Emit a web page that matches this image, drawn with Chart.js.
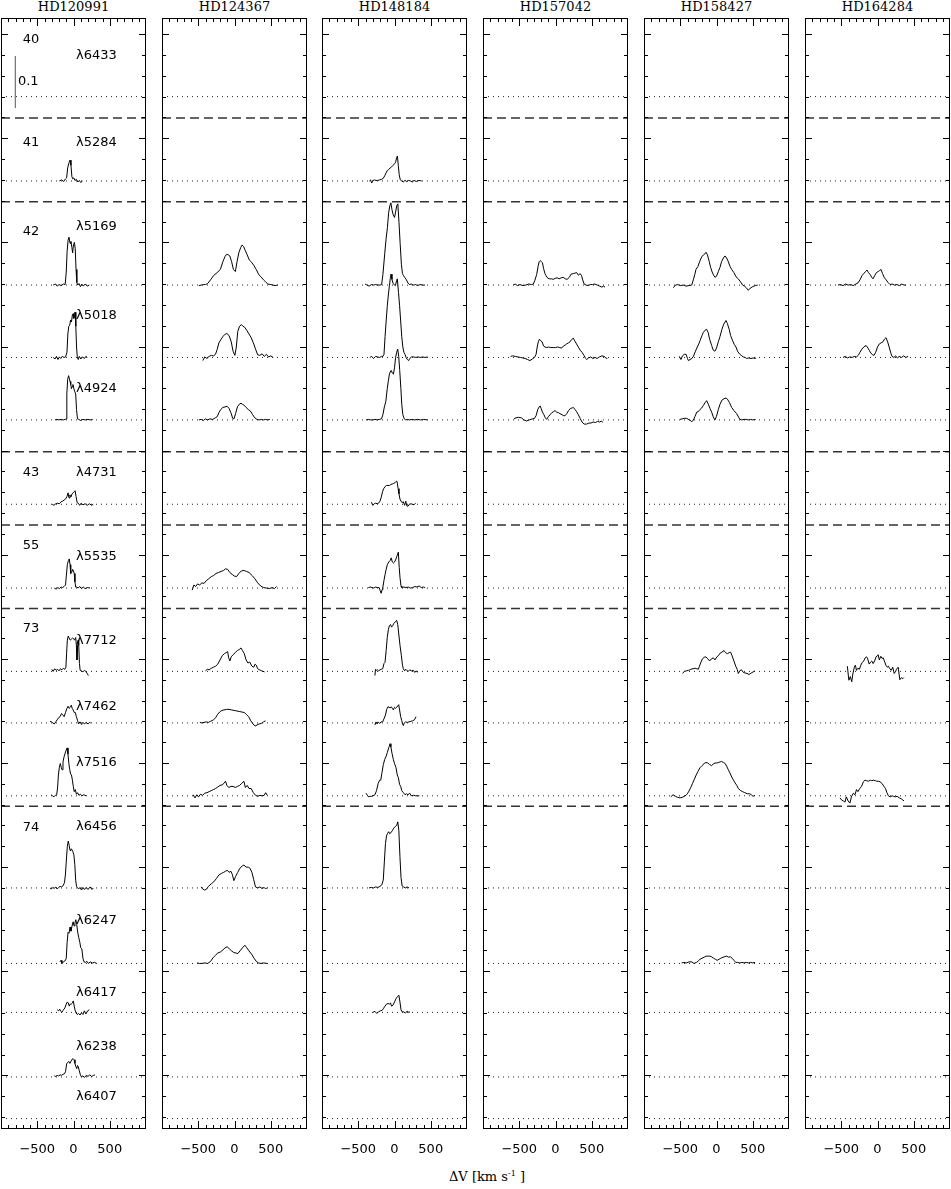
<!DOCTYPE html>
<html>
<head>
<meta charset="utf-8">
<script src="https://cdn.jsdelivr.net/npm/chart.js@4"></script>
<style>
  body { margin: 0; background: #fff; }
  #wrap { position: relative; width: 951px; height: 1189px; overflow: hidden; background: #fff; }
  #wrap canvas { position: absolute; top: 0; }
  .title { position: absolute; top: -1px; width: 145px; text-align: center; font: 13px "DejaVu Serif"; line-height: 15px; color: #000; }
  #xlabel { position: absolute; top: 1169px; left: 387px; width: 200px; text-align: center; font: 13px "DejaVu Serif"; color: #000; }
  #xlabel sup { font-size: 8px; }
</style>
</head>
<body>
<div id="wrap">
  <div id="xlabel">&Delta;V [km s<sup>-1</sup> ]</div>
</div>
<script>
// stars (columns) and spectral lines (rows)
const stars = ["HD120991", "HD124367", "HD148184", "HD157042", "HD158427", "HD164284"];
const lineNames = ["λ6433", "λ5284", "λ5169", "λ5018", "λ4924", "λ4731", "λ5535", "λ7712",
  "λ7462", "λ7516", "λ6456", "λ6247", "λ6417", "λ6238", "λ6407"];
// continuum level (offset) of each line, flux units
const baselines = [1.880, 1.718, 1.518, 1.379, 1.259, 1.097, 0.936, 0.776, 0.677, 0.537,
  0.360, 0.215, 0.121, -0.003, -0.083];
// dashed lines between multiplets
const separators = [1.839, 1.678, 1.198, 1.057, 0.897, 0.517];
const multiplets = ["40", "41", "42", "43", "55", "73", "74"];
const multipletY = [1.989, 1.791, 1.620, 1.158, 1.017, 0.859, 0.476];
const lineLabelY = [1.958, 1.791, 1.630, 1.459, 1.319, 1.158, 0.996, 0.836, 0.708, 0.600,
  0.478, 0.298, 0.158, 0.056, -0.041];
const xTickLabels = [-500, 0, 500];

// profiles: [dV km/s, flux above continuum]
const hd120991_5284 = [[-195,0],[-165,0.002],[-135,-0.001],[-110,0.004],[-95,0.006],[-80,0.025],[-60,0.036],[-48,0.040],[-35,0.030],[-22,0.008],[-10,0.004],[5,0.006],[20,0.001],[40,0.003],[60,-0.002],[80,0.001],[100,-0.003],[125,0]];
const hd120991_5169 = [[-280,0],[-250,0.002],[-225,-0.002],[-200,0.001],[-170,-0.001],[-140,0.002],[-115,0.001],[-100,0.025],[-88,0.065],[-75,0.086],[-62,0.092],[-48,0.080],[-35,0.084],[-22,0.072],[-12,0.062],[-2,0.075],[12,0.082],[24,0.070],[35,0.03],[46,0.005],[58,0],[75,0.003],[95,-0.003],[115,0.002],[135,-0.002],[160,0.002],[190,-0.002],[218,0]];
const hd120991_5018 = [[-280,0],[-255,-0.003],[-235,0.002],[-215,-0.004],[-195,0.001],[-175,-0.002],[-155,0.002],[-130,0],[-110,0.001],[-90,0.01],[-78,0.045],[-65,0.06],[-52,0.062],[-40,0.072],[-28,0.068],[-15,0.082],[-5,0.084],[5,0.075],[14,0.085],[22,0.087],[32,0.06],[42,0.02],[52,0.002],[65,-0.004],[80,0.002],[100,-0.003],[125,0.001],[150,-0.002],[170,0.002],[190,0]];
const hd120991_4924 = [[-255,0],[-230,0.001],[-200,0],[-170,0.001],[-140,0],[-115,0.001],[-100,0.002],[-92,0.05],[-80,0.078],[-68,0.085],[-58,0.080],[-48,0.074],[-38,0.068],[-28,0.060],[-18,0.064],[-8,0.068],[5,0.06],[18,0.054],[30,0.05],[42,0.02],[55,0.002],[70,0.001],[100,-0.001],[130,0.001],[160,0],[200,0.001],[230,0],[265,0.001]];
const hd120991_4731 = [[-293,0],[-270,-0.002],[-245,0.001],[-220,0.002],[-195,0.001],[-170,0.005],[-150,0.006],[-130,0.008],[-110,0.01],[-90,0.015],[-75,0.022],[-62,0.012],[-50,0.018],[-35,0.014],[-20,0.02],[-5,0.022],[10,0.024],[22,0.026],[35,0.015],[50,0.003],[65,0.002],[85,-0.002],[105,0.002],[130,-0.001],[160,0.001],[190,-0.002],[220,0.001],[250,-0.002],[273,0]];
const hd120991_5535 = [[-265,0],[-240,-0.002],[-215,0.001],[-195,-0.001],[-170,0.002],[-150,0.001],[-130,0.003],[-110,0.006],[-98,0.025],[-85,0.045],[-70,0.053],[-58,0.056],[-48,0.045],[-38,0.028],[-25,0.03],[-12,0.036],[0,0.033],[10,0.028],[20,0.012],[30,0.002],[45,0.002],[65,0],[85,0.003],[110,-0.001],[135,0.002],[160,-0.001],[195,0.001],[228,0]];
const hd120991_7712 = [[-300,0.004],[-280,0],[-260,0.005],[-240,0.002],[-220,0.004],[-200,0.001],[-180,0.005],[-160,0.003],[-140,0.006],[-120,0.004],[-105,0.008],[-95,0.035],[-85,0.06],[-72,0.068],[-60,0.064],[-45,0.060],[-30,0.062],[-15,0.064],[0,0.063],[15,0.060],[30,0.065],[40,0.05],[48,0.022],[56,0.045],[64,0.06],[72,0.05],[82,0.015],[92,0.002],[110,0.001],[130,-0.001],[150,0.002],[170,0],[190,-0.004],[204,-0.008]];
const hd120991_7462 = [[-324,0.003],[-305,0.002],[-285,0],[-265,-0.002],[-245,0.002],[-225,0.006],[-205,0.01],[-185,0.012],[-165,0.018],[-150,0.016],[-130,0.012],[-110,0.02],[-90,0.028],[-75,0.032],[-60,0.028],[-45,0.03],[-30,0.034],[-18,0.028],[-5,0.025],[10,0.02],[25,0.02],[40,0.012],[55,0.005],[70,-0.002],[90,0.002],[110,-0.003],[130,0.001],[150,-0.002],[175,0.001],[200,-0.002],[220,0.001],[237,0]];
const hd120991_7516 = [[-310,0.002],[-290,0],[-270,-0.002],[-250,0.001],[-232,0.002],[-220,0.015],[-208,0.04],[-195,0.055],[-182,0.062],[-170,0.055],[-158,0.05],[-145,0.065],[-130,0.075],[-115,0.082],[-100,0.088],[-88,0.092],[-76,0.08],[-64,0.062],[-52,0.05],[-40,0.042],[-28,0.04],[-15,0.03],[-3,0.018],[10,0.008],[25,0.012],[40,0.003],[55,0.006],[75,0.001],[95,0.003],[115,0],[140,0.002],[172,0]];
const hd120991_6456 = [[-324,0],[-305,-0.002],[-285,0.001],[-265,-0.001],[-245,0.002],[-225,-0.002],[-205,0.001],[-185,0.003],[-165,0.002],[-145,0.004],[-125,0.01],[-112,0.025],[-100,0.05],[-85,0.08],[-72,0.09],[-60,0.082],[-48,0.072],[-35,0.075],[-22,0.074],[-10,0.07],[5,0.064],[18,0.045],[30,0.015],[42,0.003],[55,0.001],[70,-0.002],[90,0.001],[110,-0.004],[130,0.001],[150,-0.003],[175,0.001],[200,-0.003],[230,0.002],[255,-0.003],[273,0]];
const hd120991_6247 = [[-186,0.003],[-172,0.006],[-160,0],[-145,0.002],[-130,0.004],[-115,0.005],[-100,0.01],[-88,0.04],[-75,0.06],[-62,0.058],[-48,0.07],[-35,0.062],[-20,0.072],[-5,0.08],[8,0.072],[20,0.078],[32,0.084],[44,0.075],[58,0.06],[72,0.05],[88,0.04],[100,0.03],[115,0.028],[130,0.01],[145,0.003],[165,0.002],[185,0.004],[205,0],[230,0.003],[260,0.001],[290,0.002],[320,0]];
const hd120991_6417 = [[-223,0.005],[-205,0.003],[-190,0.006],[-175,0.002],[-160,0],[-145,0.004],[-130,0.006],[-115,0.01],[-100,0.016],[-85,0.02],[-72,0.018],[-58,0.012],[-45,0.016],[-30,0.016],[-15,0.018],[-3,0.022],[10,0.012],[22,0.004],[35,-0.001],[50,-0.004],[70,-0.002],[90,-0.005],[110,-0.001],[130,-0.004],[150,0.003],[170,-0.003],[195,0.003],[218,0.005]];
const hd120991_6238 = [[-265,0.002],[-245,0.001],[-225,0.003],[-205,0.002],[-185,0.004],[-165,0.003],[-145,0.005],[-125,0.006],[-110,0.01],[-95,0.025],[-80,0.028],[-65,0.03],[-50,0.026],[-35,0.03],[-20,0.034],[-5,0.035],[8,0.033],[20,0.026],[32,0.02],[45,0.016],[55,0.022],[65,0.02],[80,0.012],[95,0.004],[110,0],[130,0.002],[150,-0.001],[175,0.003],[200,0.001],[225,0.004],[250,0.001],[275,0.003],[297,0.004]];

const hd124367_5169 = [[-492,-0.001],[-460,0],[-430,0.001],[-400,0.001],[-370,0.003],[-330,0.01],[-290,0.018],[-240,0.024],[-195,0.03],[-160,0.045],[-130,0.055],[-110,0.059],[-85,0.058],[-65,0.056],[-40,0.045],[-15,0.03],[12,0.026],[35,0.045],[60,0.062],[85,0.072],[105,0.077],[125,0.074],[150,0.066],[175,0.058],[205,0.048],[235,0.044],[265,0.038],[300,0.03],[335,0.02],[365,0.016],[400,0.01],[430,0.006],[460,0.002],[500,0.001],[530,0],[560,-0.001],[595,0]];
const hd124367_5018 = [[-437,-0.006],[-410,0.001],[-380,-0.002],[-350,0.002],[-320,0.004],[-290,0.003],[-262,0.006],[-240,0.015],[-215,0.028],[-185,0.035],[-160,0.04],[-135,0.044],[-105,0.046],[-75,0.042],[-45,0.03],[-20,0.012],[5,0.004],[25,0.02],[45,0.05],[70,0.06],[95,0.063],[115,0.06],[140,0.058],[170,0.052],[200,0.045],[230,0.038],[260,0.028],[290,0.016],[320,0.005],[350,0.004],[380,0.007],[410,0.002],[440,0.006],[470,0.001],[500,0.003],[534,0]];
const hd124367_4924 = [[-492,0],[-460,0.001],[-430,-0.001],[-400,0.002],[-370,0],[-340,0.002],[-300,0.001],[-265,0.004],[-240,0.006],[-215,0.014],[-190,0.02],[-160,0.024],[-130,0.025],[-100,0.026],[-75,0.022],[-50,0.014],[-25,0.003],[-8,0.002],[15,0.012],[40,0.025],[65,0.03],[90,0.032],[110,0.03],[135,0.028],[160,0.024],[190,0.02],[220,0.017],[250,0.01],[280,0.004],[310,0.001],[340,0],[370,0.001],[400,0],[430,0.001],[460,0],[488,0.001]];
const hd124367_5535 = [[-584,-0.004],[-560,0.006],[-535,0.003],[-510,0.008],[-480,0.006],[-450,0.01],[-420,0.009],[-390,0.014],[-355,0.018],[-320,0.022],[-290,0.024],[-255,0.028],[-220,0.03],[-185,0.032],[-150,0.034],[-124,0.037],[-95,0.036],[-65,0.03],[-30,0.026],[0,0.023],[28,0.022],[60,0.028],[95,0.033],[129,0.034],[165,0.032],[200,0.03],[244,0.024],[280,0.018],[320,0.01],[360,0.004],[400,0.001],[440,0],[480,-0.001],[520,0.001],[550,-0.001],[580,0.003]];
const hd124367_7712 = [[-400,0.001],[-375,0.004],[-350,0.003],[-320,0.006],[-290,0.008],[-260,0.01],[-230,0.014],[-200,0.022],[-170,0.03],[-140,0.034],[-115,0.036],[-95,0.038],[-80,0.026],[-64,0.02],[-45,0.028],[-20,0.032],[10,0.036],[40,0.04],[65,0.042],[90,0.045],[110,0.04],[135,0.034],[160,0.022],[185,0.016],[210,0.018],[240,0.01],[265,0.008],[285,0.014],[300,0.012],[320,0.005],[345,0.003],[375,0.001],[414,-0.001]];
const hd124367_7462 = [[-478,0.001],[-450,0],[-420,0.001],[-390,0.002],[-360,0.001],[-330,0.003],[-290,0.006],[-260,0.01],[-235,0.016],[-205,0.021],[-175,0.024],[-145,0.025],[-110,0.026],[-75,0.026],[-40,0.025],[-5,0.024],[30,0.023],[65,0.022],[100,0.021],[135,0.02],[165,0.016],[195,0.012],[225,0.004],[255,-0.002],[285,-0.006],[310,-0.004],[340,-0.002],[370,-0.001],[400,0.002],[428,0.004]];
const hd124367_7516 = [[-570,0.002],[-545,-0.004],[-520,0.002],[-495,-0.002],[-470,0.003],[-440,0.001],[-410,0.005],[-380,0.006],[-350,0.008],[-320,0.01],[-290,0.012],[-260,0.014],[-230,0.017],[-200,0.02],[-170,0.021],[-145,0.024],[-124,0.028],[-105,0.02],[-80,0.016],[-50,0.018],[-20,0.018],[10,0.016],[40,0.018],[70,0.02],[100,0.024],[129,0.028],[150,0.016],[175,0.02],[200,0.014],[230,0.014],[260,0.006],[290,0.001],[320,-0.001],[350,0.001],[380,0],[410,0.001],[430,0.006],[451,0.001]];
const hd124367_6456 = [[-460,0.002],[-440,-0.002],[-415,-0.004],[-390,-0.003],[-360,0.003],[-320,0.008],[-285,0.012],[-250,0.018],[-215,0.025],[-180,0.028],[-150,0.03],[-125,0.032],[-100,0.034],[-75,0.03],[-50,0.032],[-30,0.026],[-9,0.014],[15,0.022],[45,0.03],[75,0.038],[105,0.042],[130,0.044],[160,0.04],[190,0.04],[212,0.038],[240,0.03],[265,0.016],[290,0.002],[320,0],[350,0.002],[380,-0.001],[410,0.001],[430,-0.002],[451,0.001]];
const hd124367_6247 = [[-515,0.001],[-480,0],[-445,0],[-410,0.001],[-370,0],[-330,0.004],[-290,0.012],[-260,0.016],[-230,0.02],[-195,0.022],[-160,0.026],[-130,0.03],[-101,0.032],[-70,0.028],[-40,0.024],[-10,0.021],[20,0.02],[46,0.019],[75,0.024],[110,0.03],[143,0.035],[170,0.03],[200,0.024],[235,0.018],[270,0.01],[300,0.004],[330,0.001],[365,0],[400,0.001],[451,0]];

const hd148184_5284 = [[-347,0],[-330,0.002],[-315,-0.004],[-295,0.001],[-275,0.002],[-255,0.001],[-230,0.001],[-205,0.002],[-180,0.003],[-155,0.005],[-135,0.01],[-118,0.015],[-100,0.02],[-80,0.022],[-60,0.025],[-40,0.027],[-20,0.03],[0,0.033],[15,0.036],[30,0.045],[40,0.048],[52,0.03],[65,0.012],[80,0.002],[100,0],[120,-0.002],[145,0.001],[170,-0.001],[195,0.001],[220,0],[245,-0.002],[270,0.001],[300,-0.001],[340,0.001],[375,0]];
const hd148184_5169 = [[-406,0.002],[-380,0],[-350,-0.002],[-320,0.001],[-290,0],[-260,0.001],[-230,0],[-200,0],[-178,0.001],[-160,0.02],[-135,0.06],[-115,0.09],[-98,0.11],[-80,0.14],[-65,0.152],[-50,0.158],[-35,0.145],[-18,0.135],[0,0.13],[15,0.14],[30,0.152],[46,0.156],[62,0.12],[78,0.08],[95,0.04],[110,0.022],[125,0.018],[145,0.014],[165,0.01],[185,0.004],[205,0.001],[230,0.002],[260,0],[290,0.001],[320,-0.001],[350,0.001],[385,0],[421,0]];
const hd148184_5018 = [[-340,0],[-315,0.002],[-290,-0.002],[-260,0.002],[-235,0.001],[-205,0],[-180,0.002],[-160,0.002],[-145,0.006],[-130,0.04],[-115,0.07],[-100,0.098],[-85,0.12],[-70,0.138],[-58,0.152],[-48,0.16],[-35,0.15],[-20,0.142],[-5,0.14],[12,0.138],[25,0.145],[39,0.151],[55,0.125],[70,0.1],[85,0.07],[100,0.04],[115,0.02],[130,0.01],[145,0.006],[160,0],[177,-0.004],[195,-0.006],[210,-0.002],[235,0.001],[265,0.001],[295,0],[325,0.001],[355,0],[390,0.001],[420,0],[455,0.001]];
const hd148184_4924 = [[-393,0],[-360,0.001],[-330,0],[-300,0],[-270,0.001],[-240,0],[-210,0.001],[-180,0.002],[-160,0.01],[-140,0.025],[-120,0.035],[-100,0.06],[-85,0.075],[-70,0.088],[-60,0.092],[-45,0.095],[-30,0.09],[-15,0.088],[0,0.1],[15,0.12],[30,0.13],[44,0.136],[58,0.122],[72,0.095],[88,0.06],[100,0.03],[115,0.01],[135,0.002],[155,0],[180,0.001],[210,0],[240,0.001],[280,0],[320,0.001],[360,0],[400,0.001],[455,0]];
const hd148184_4731 = [[-318,0.004],[-300,-0.002],[-280,0.001],[-260,0.002],[-240,0.001],[-220,0.002],[-200,0.006],[-182,0.014],[-165,0.024],[-149,0.03],[-130,0.034],[-110,0.036],[-90,0.036],[-70,0.036],[-50,0.038],[-30,0.039],[-10,0.04],[10,0.042],[25,0.044],[35,0.044],[50,0.03],[62,0.02],[75,0.01],[90,0.006],[105,0.003],[120,0.005],[140,-0.002],[155,0.006],[170,-0.003],[186,-0.004],[205,0],[230,0.001],[255,-0.001],[275,0],[292,0.002]];
const hd148184_5535 = [[-361,0.001],[-335,0.002],[-310,0.001],[-285,0],[-260,0.002],[-235,0.001],[-212,0.001],[-198,-0.005],[-184,-0.01],[-172,-0.003],[-160,0.002],[-145,0.015],[-130,0.026],[-115,0.036],[-99,0.045],[-80,0.05],[-60,0.053],[-45,0.058],[-30,0.05],[-15,0.048],[0,0.05],[15,0.054],[30,0.06],[45,0.066],[53,0.069],[65,0.04],[76,0.02],[90,0.004],[100,0.001],[130,0.002],[160,0.001],[190,0.002],[220,0],[250,0.001],[280,0.003],[310,0.002],[340,0.004],[370,0.001],[400,0.002],[421,0.001]];
const hd148184_7712 = [[-270,-0.008],[-262,0.004],[-250,0.002],[-235,0.003],[-220,0.001],[-200,0.003],[-182,0.004],[-163,0.005],[-145,0.015],[-131,0.017],[-115,0.04],[-100,0.065],[-85,0.08],[-70,0.088],[-55,0.09],[-40,0.085],[-25,0.088],[-10,0.092],[10,0.095],[30,0.098],[45,0.09],[60,0.07],[76,0.05],[95,0.03],[110,0.012],[122,0.005],[140,0.001],[155,0.004],[168,0.002],[190,0],[210,0.003],[235,0.001],[260,0.002],[280,-0.002],[300,0.001],[315,-0.002]];
const hd148184_7462 = [[-270,-0.004],[-255,0.002],[-240,-0.002],[-225,0.002],[-205,-0.001],[-185,0.002],[-163,0.002],[-145,0.008],[-125,0.015],[-108,0.026],[-90,0.031],[-75,0.03],[-60,0.029],[-45,0.031],[-30,0.028],[-16,0.025],[0,0.03],[15,0.028],[30,0.03],[45,0.033],[58,0.035],[70,0.025],[85,0.012],[99,0.005],[110,-0.002],[122,-0.005],[135,0],[150,0.002],[175,0.001],[200,0.002],[225,0.003],[250,0.004],[275,0.006],[297,0.012]];
const hd148184_7516 = [[-393,0.005],[-375,0.001],[-355,-0.002],[-335,-0.001],[-315,-0.001],[-295,0],[-270,0.002],[-248,0.01],[-225,0.024],[-205,0.03],[-190,0.03],[-172,0.045],[-154,0.06],[-135,0.07],[-115,0.076],[-99,0.083],[-85,0.09],[-72,0.095],[-62,0.1],[-50,0.094],[-35,0.082],[-16,0.07],[0,0.062],[21,0.054],[38,0.04],[53,0.035],[70,0.022],[85,0.018],[100,0.01],[122,0.006],[145,0.002],[165,0.004],[185,0.002],[210,0.005],[230,0],[260,0.001],[290,0],[320,0],[343,0]];
const hd148184_6456 = [[-352,0],[-320,0.001],[-290,0],[-260,0.002],[-230,0.001],[-200,0.003],[-175,0.006],[-155,0.015],[-140,0.05],[-125,0.085],[-110,0.1],[-95,0.105],[-80,0.108],[-65,0.104],[-50,0.106],[-30,0.11],[-10,0.115],[10,0.118],[30,0.12],[45,0.127],[60,0.11],[75,0.06],[90,0.02],[105,0.004],[125,0.002],[150,0],[175,0.002],[200,0]];
const hd148184_6417 = [[-297,0],[-270,0.002],[-245,-0.002],[-220,0.001],[-195,0.003],[-170,0.004],[-150,0.008],[-131,0.012],[-110,0.016],[-90,0.017],[-70,0.016],[-55,0.018],[-40,0.012],[-20,0.014],[0,0.02],[20,0.026],[40,0.03],[60,0.033],[75,0.02],[90,0.005],[104,0.001],[125,0.001],[150,-0.001],[175,0.002],[200,0],[214,0.001]];

const hd157042_5169 = [[-582,0],[-555,0.002],[-525,-0.001],[-490,0.001],[-450,-0.001],[-410,0],[-370,0.002],[-330,0.001],[-306,0.002],[-285,0.009],[-260,0.02],[-240,0.036],[-225,0.045],[-212,0.047],[-195,0.045],[-180,0.043],[-165,0.032],[-145,0.022],[-130,0.018],[-105,0.013],[-80,0.012],[-55,0.012],[-30,0.011],[-5,0.013],[23,0.014],[50,0.012],[80,0.014],[106,0.015],[135,0.012],[160,0.011],[191,0.015],[215,0.021],[245,0.022],[270,0.023],[292,0.024],[315,0.019],[340,0.022],[360,0.018],[375,0.01],[395,0.002],[421,0],[450,-0.001],[480,0.001],[510,0.001],[545,0.002],[575,0],[610,-0.002],[640,-0.004],[660,-0.002],[683,-0.004]];
const hd157042_5018 = [[-619,0.002],[-590,0.003],[-555,0.002],[-520,0.001],[-485,0],[-450,-0.001],[-420,-0.002],[-385,-0.004],[-352,-0.006],[-320,-0.003],[-290,0],[-268,0.006],[-250,0.022],[-237,0.03],[-222,0.035],[-205,0.032],[-185,0.03],[-165,0.022],[-145,0.02],[-120,0.019],[-95,0.02],[-65,0.019],[-30,0.019],[0,0.019],[30,0.02],[60,0.019],[85,0.018],[110,0.022],[135,0.024],[154,0.026],[180,0.028],[200,0.03],[220,0.034],[246,0.037],[265,0.032],[290,0.026],[315,0.02],[340,0.014],[365,0.01],[393,0.004],[415,-0.002],[430,-0.004],[455,-0.001],[485,0.001],[515,-0.002],[545,0],[575,-0.002],[605,0.001],[640,0.003],[670,0.002],[695,-0.001],[715,-0.002]];
const hd157042_4924 = [[-573,0.002],[-545,0.004],[-510,0.005],[-470,0.004],[-435,0],[-400,-0.002],[-360,0],[-320,0.002],[-290,0.003],[-268,0.008],[-245,0.02],[-225,0.025],[-212,0.027],[-198,0.022],[-180,0.015],[-160,0.01],[-140,0.004],[-122,0.001],[-100,0.006],[-75,0.01],[-50,0.014],[-25,0.016],[-7,0.018],[15,0.015],[40,0.014],[62,0.012],[90,0.01],[115,0.008],[131,0.008],[155,0.012],[180,0.018],[205,0.022],[230,0.023],[246,0.024],[270,0.02],[290,0.016],[315,0.01],[340,0.003],[365,-0.004],[395,-0.008],[430,-0.008],[460,-0.006],[490,-0.006],[520,-0.004],[550,-0.005],[580,-0.003],[610,-0.004],[635,-0.002],[651,-0.005]];

const hd158427_5169 = [[-595,-0.005],[-565,0],[-535,0.001],[-500,-0.001],[-460,0],[-420,-0.002],[-380,-0.001],[-342,0],[-320,0.01],[-300,0.02],[-283,0.03],[-255,0.036],[-230,0.046],[-205,0.054],[-180,0.058],[-160,0.06],[-145,0.063],[-125,0.058],[-100,0.045],[-81,0.034],[-60,0.025],[-40,0.019],[-21,0.015],[0,0.017],[25,0.026],[48,0.034],[70,0.045],[95,0.052],[117,0.056],[140,0.052],[160,0.046],[186,0.036],[210,0.03],[240,0.024],[269,0.016],[300,0.012],[333,0.006],[360,0],[385,-0.002],[410,-0.005],[439,-0.01],[465,-0.006],[500,-0.003],[535,-0.001],[568,0]];
const hd158427_5018 = [[-513,0.002],[-490,-0.004],[-470,0.003],[-445,0.006],[-420,0.006],[-400,-0.002],[-388,-0.006],[-365,-0.004],[-340,-0.002],[-319,0.002],[-290,0.012],[-265,0.02],[-250,0.024],[-225,0.033],[-200,0.042],[-182,0.048],[-160,0.052],[-136,0.054],[-115,0.048],[-95,0.035],[-67,0.023],[-45,0.014],[-21,0.012],[0,0.018],[25,0.03],[48,0.04],[75,0.054],[100,0.064],[131,0.071],[150,0.065],[175,0.054],[195,0.042],[220,0.033],[245,0.025],[269,0.02],[290,0.012],[315,0.007],[340,0.004],[370,0.001],[395,0],[416,-0.002],[445,-0.001],[475,-0.002],[505,-0.001],[530,-0.002],[545,-0.001]];
const hd158427_4924 = [[-503,0.001],[-475,0.002],[-445,0.003],[-411,0.003],[-375,0],[-342,-0.003],[-320,-0.001],[-296,0.007],[-272,0.015],[-250,0.016],[-228,0.02],[-204,0.023],[-180,0.028],[-158,0.033],[-136,0.037],[-112,0.03],[-90,0.022],[-67,0.015],[-45,0.006],[-21,0],[0,0.007],[25,0.02],[48,0.03],[75,0.038],[105,0.041],[131,0.042],[150,0.04],[180,0.033],[209,0.024],[240,0.018],[278,0.012],[310,0.004],[324,0.001],[350,0],[380,0.001],[410,0.001],[440,0],[470,0.001],[500,0],[540,0.001]];
const hd158427_7712 = [[-467,-0.004],[-445,0],[-415,0.001],[-385,0.002],[-355,0.004],[-325,0.005],[-295,0.006],[-270,0.005],[-250,0.004],[-235,0.01],[-219,0.016],[-195,0.024],[-170,0.027],[-145,0.028],[-120,0.024],[-95,0.02],[-70,0.024],[-44,0.026],[-20,0.022],[5,0.028],[25,0.03],[50,0.035],[75,0.037],[104,0.04],[125,0.036],[150,0.034],[175,0.036],[195,0.037],[215,0.03],[240,0.02],[265,0.01],[285,0.004],[301,-0.004],[320,0.001],[345,0.003],[370,-0.002],[393,-0.003],[420,-0.004],[450,-0.006],[480,-0.003],[505,-0.001],[531,0.001]];
const hd158427_7516 = [[-630,-0.002],[-600,0.002],[-565,-0.001],[-535,-0.003],[-503,-0.004],[-475,-0.003],[-445,-0.001],[-420,0.001],[-402,0.004],[-380,0.009],[-355,0.016],[-330,0.024],[-305,0.032],[-280,0.04],[-255,0.047],[-227,0.054],[-200,0.058],[-170,0.062],[-145,0.064],[-120,0.063],[-95,0.06],[-67,0.058],[-45,0.061],[-20,0.063],[5,0.063],[25,0.064],[50,0.065],[71,0.066],[95,0.064],[120,0.062],[140,0.057],[163,0.05],[185,0.044],[210,0.036],[235,0.03],[255,0.025],[280,0.02],[300,0.014],[333,0.01],[360,0.008],[390,0.006],[425,0.004],[455,0.004],[480,0.002],[505,-0.001],[531,0.001]];
const hd158427_6247 = [[-480,0.001],[-450,0.002],[-415,0.001],[-380,0.003],[-342,0.003],[-310,0],[-275,0.002],[-250,0.005],[-227,0.008],[-200,0.01],[-170,0.012],[-145,0.014],[-120,0.014],[-95,0.014],[-70,0.013],[-40,0.01],[-15,0.008],[10,0.006],[35,0.008],[60,0.01],[90,0.012],[115,0.013],[140,0.014],[165,0.012],[190,0.013],[215,0.01],[241,0.006],[265,0.002],[290,0.002],[320,0.001],[350,0.002],[380,0.001],[410,0.002],[440,0.001],[470,0.002],[500,0.001],[531,0.002]];

const hd164284_5169 = [[-545,0],[-510,0.001],[-475,-0.001],[-440,0.002],[-405,0],[-370,0.001],[-335,-0.001],[-300,0.002],[-270,0.004],[-242,0.01],[-215,0.018],[-190,0.022],[-165,0.026],[-145,0.029],[-125,0.024],[-100,0.02],[-80,0.015],[-62,0.012],[-40,0.018],[-15,0.024],[10,0.026],[30,0.028],[48,0.03],[70,0.022],[95,0.014],[120,0.01],[145,0.005],[173,0.001],[200,0.002],[235,0],[270,0.001],[300,-0.001],[335,0.002],[365,0],[393,0]];
const hd164284_5018 = [[-476,0],[-445,0.002],[-415,-0.001],[-385,0.001],[-350,0],[-320,0.002],[-290,0.001],[-265,0.004],[-242,0.01],[-215,0.016],[-190,0.02],[-170,0.022],[-159,0.023],[-140,0.02],[-115,0.014],[-90,0.008],[-65,0.005],[-48,0.004],[-25,0.01],[0,0.02],[25,0.026],[50,0.028],[75,0.03],[95,0.035],[117,0.038],[140,0.03],[165,0.018],[185,0.008],[200,0.002],[225,0],[250,0.003],[275,-0.001],[300,0.002],[330,0],[360,0.003],[390,0],[421,0.002]];
const hd164284_7712 = [[-416,0.01],[-395,-0.017],[-375,-0.01],[-355,-0.02],[-340,-0.005],[-320,0.008],[-305,0.012],[-290,0.002],[-270,0.006],[-250,0.004],[-230,0.012],[-210,0.017],[-190,0.02],[-170,0.026],[-152,0.028],[-135,0.024],[-115,0.014],[-95,0.018],[-80,0.02],[-60,0.015],[-40,0.02],[-20,0.028],[0,0.03],[9,0.032],[25,0.022],[45,0.029],[62,0.025],[78,0.026],[95,0.02],[115,0.012],[135,0.008],[150,0.01],[170,0.005],[190,0.002],[210,0.008],[230,-0.004],[250,0],[262,0.004],[285,0.008],[308,-0.016],[330,-0.012],[350,-0.014],[363,-0.012]];
const hd164284_7516 = [[-518,-0.004],[-495,-0.008],[-470,-0.01],[-448,-0.012],[-430,-0.002],[-405,-0.01],[-380,-0.014],[-360,-0.002],[-333,0.005],[-310,0.002],[-290,0.012],[-270,0.008],[-245,0.014],[-220,0.018],[-195,0.027],[-172,0.03],[-150,0.029],[-125,0.028],[-100,0.03],[-80,0.029],[-55,0.03],[-30,0.029],[-10,0.028],[12,0.028],[35,0.027],[60,0.024],[90,0.018],[110,0.014],[130,0.006],[150,0],[175,-0.002],[200,0],[219,-0.001],[245,-0.002],[270,-0.001],[302,-0.004],[330,-0.006],[350,-0.008],[366,-0.01]];

// which line each profile belongs to (index into lineNames)
const panelProfiles = [
  [[1, hd120991_5284], [2, hd120991_5169], [3, hd120991_5018], [4, hd120991_4924], [5, hd120991_4731],
   [6, hd120991_5535], [7, hd120991_7712], [8, hd120991_7462], [9, hd120991_7516], [10, hd120991_6456],
   [11, hd120991_6247], [12, hd120991_6417], [13, hd120991_6238]],
  [[2, hd124367_5169], [3, hd124367_5018], [4, hd124367_4924], [6, hd124367_5535], [7, hd124367_7712],
   [8, hd124367_7462], [9, hd124367_7516], [10, hd124367_6456], [11, hd124367_6247]],
  [[1, hd148184_5284], [2, hd148184_5169], [3, hd148184_5018], [4, hd148184_4924], [5, hd148184_4731],
   [6, hd148184_5535], [7, hd148184_7712], [8, hd148184_7462], [9, hd148184_7516], [10, hd148184_6456],
   [12, hd148184_6417]],
  [[2, hd157042_5169], [3, hd157042_5018], [4, hd157042_4924]],
  [[2, hd158427_5169], [3, hd158427_5018], [4, hd158427_4924], [7, hd158427_7712], [9, hd158427_7516],
   [11, hd158427_6247]],
  [[2, hd164284_5169], [3, hd164284_5018], [7, hd164284_7712], [9, hd164284_7516]]
];

const X_MIN = -1000, X_MAX = 1000, Y_MIN = -0.103, Y_MAX = 2.031;
const panelLefts = [1, 162, 322, 483, 644, 805];
const PANEL_W = 145;
const CANVAS_H = 1162;

// inward ticks on all four sides plus the box
const frameTicks = {
  id: "frameTicks",
  afterDatasetsDraw(chart) {
    const { ctx, chartArea: a, scales: { x, y } } = chart;
    ctx.save();
    ctx.strokeStyle = "#000";
    ctx.lineWidth = 1;
    ctx.strokeRect(a.left + 0.5, a.top + 0.5, a.right - a.left - 1, a.bottom - a.top - 1);
    ctx.beginPath();
    for (let v = -900; v <= 900; v += 100) {
      const px = Math.round(x.getPixelForValue(v)) + 0.5;
      const len = v % 500 === 0 ? 8 : 4;
      ctx.moveTo(px, a.bottom); ctx.lineTo(px, a.bottom - len);
      ctx.moveTo(px, a.top); ctx.lineTo(px, a.top + len);
    }
    for (let i = -2; i <= 50; i++) {
      const v = i * 0.04;
      if (v <= Y_MIN || v >= Y_MAX) continue;
      const py = Math.round(y.getPixelForValue(v)) + 0.5;
      const len = i % 5 === 0 ? 7 : 4;
      ctx.moveTo(a.left, py); ctx.lineTo(a.left + len, py);
      ctx.moveTo(a.right, py); ctx.lineTo(a.right - len, py);
    }
    ctx.stroke();
    ctx.restore();
  }
};

// multiplet numbers, line names and the 0.1 bar label (first column only)
const lineLabels = {
  id: "lineLabels",
  afterDatasetsDraw(chart) {
    const { ctx, scales: { x, y } } = chart;
    ctx.save();
    ctx.fillStyle = "#000";
    ctx.font = '13px "DejaVu Sans"';
    ctx.textBaseline = "middle";
    ctx.textAlign = "left";
    lineNames.forEach((n, k) => ctx.fillText(n, x.getPixelForValue(35), y.getPixelForValue(lineLabelY[k])));
    ctx.fillText("0.1", x.getPixelForValue(-766), y.getPixelForValue(1.909));
    ctx.textAlign = "center";
    multiplets.forEach((m, k) => ctx.fillText(m, x.getPixelForValue(-587), y.getPixelForValue(multipletY[k])));
    ctx.restore();
  }
};

const wrap = document.getElementById("wrap");

stars.forEach((star, i) => {
  const title = document.createElement("div");
  title.className = "title";
  title.style.left = panelLefts[i] + "px";
  title.textContent = star;
  wrap.appendChild(title);

  const canvas = document.createElement("canvas");
  canvas.width = PANEL_W + 8;
  canvas.height = CANVAS_H;
  canvas.style.left = (panelLefts[i] - 4) + "px";
  wrap.appendChild(canvas);

  const datasets = [];
  baselines.forEach((b) => datasets.push({
    data: [{ x: X_MIN, y: b }, { x: X_MAX, y: b }],
    borderColor: "#222", borderWidth: 1, borderDash: [1, 4]
  }));
  separators.forEach((s) => datasets.push({
    data: [{ x: X_MIN, y: s }, { x: X_MAX, y: s }],
    borderColor: "#333", borderWidth: 1.5, borderDash: [9, 5]
  }));
  panelProfiles[i].forEach(([k, prof]) => datasets.push({
    data: prof.map(([v, f]) => ({ x: v, y: baselines[k] + f })),
    borderColor: "#000", borderWidth: 1
  }));
  if (i === 0) {
    datasets.push({
      data: [{ x: -803, y: 1.858 }, { x: -803, y: 1.958 }],
      borderColor: "#555", borderWidth: 1
    });
  }

  new Chart(canvas, {
    type: "line",
    data: { datasets },
    options: {
      responsive: false,
      animation: false,
      devicePixelRatio: 1,
      events: [],
      layout: { padding: { left: 4, right: 4, top: 18, bottom: 0 } },
      elements: { point: { radius: 0 }, line: { tension: 0, fill: false } },
      plugins: { legend: { display: false }, tooltip: { enabled: false } },
      scales: {
        x: {
          type: "linear", min: X_MIN, max: X_MAX,
          grid: { display: false, drawTicks: false },
          border: { display: false },
          afterBuildTicks: (s) => { s.ticks = xTickLabels.map((v) => ({ value: v })); },
          afterFit: (s) => { s.height = CANVAS_H - 1129; },
          ticks: {
            padding: 13, autoSkip: false, maxRotation: 0, color: "#000",
            font: { family: "DejaVu Sans", size: 13 },
            callback: (v) => (v < 0 ? "\u2212" + Math.abs(v) : String(v))
          }
        },
        y: { type: "linear", display: false, min: Y_MIN, max: Y_MAX }
      }
    },
    plugins: i === 0 ? [frameTicks, lineLabels] : [frameTicks]
  });
});
</script>
</body>
</html>
